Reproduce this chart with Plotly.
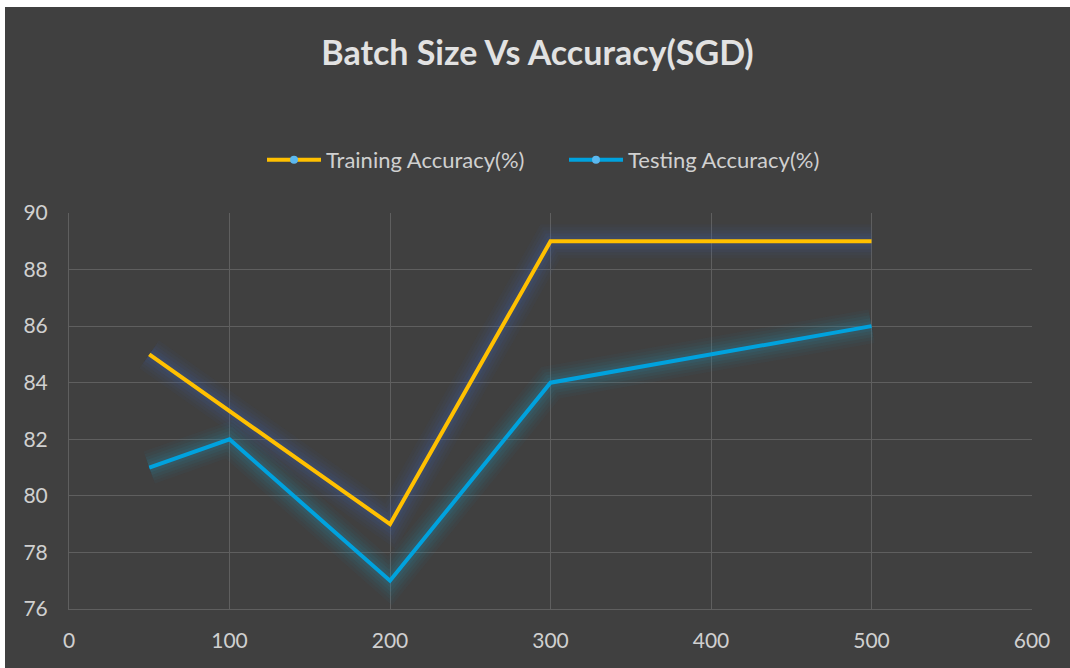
import plotly.graph_objects as go

batch_size = [50, 100, 200, 300, 500]
training_acc = [85, 83, 79, 89, 89]
testing_acc = [81, 82, 77, 84, 86]
series_names = ["Training Accuracy(%)", "Testing Accuracy(%)"]
x_ticks = [0, 100, 200, 300, 400, 500, 600]
y_ticks = [76, 78, 80, 82, 84, 86, 88, 90]

BG = "#404040"
GRID = "#5f5f5f"
TXT = "#d0d0d0"
FONT = "Lato"
colors = ["#FFC000", "#00A2DE"]
glow = ["60,95,170", "40,135,170"]

fig = go.Figure()

# glow layers
for ys, g in zip((training_acc, testing_acc), glow):
    for w, a in ((34, 0.05), (28, 0.06), (22, 0.08), (16, 0.10), (10, 0.13)):
        fig.add_trace(go.Scatter(x=batch_size, y=ys, mode="lines",
                                 line=dict(color=f"rgba({g},{a})", width=w),
                                 showlegend=False, hoverinfo="skip"))

for ys, c in zip((training_acc, testing_acc), colors):
    fig.add_trace(go.Scatter(x=batch_size, y=ys, mode="lines",
                             line=dict(color=c, width=4), showlegend=False))

for name, c in zip(series_names, colors):
    fig.add_trace(go.Scatter(x=[None], y=[None], mode="lines+markers", name=name,
                             line=dict(color=c, width=4),
                             marker=dict(color="#5BB8F0", size=8)))

W, H = 1065, 661
L, R, T, B = 64, 38, 206, 59
ph = H - T - B
pw = W - L - R

fig.update_layout(
    width=W, height=H,
    margin=dict(l=L, r=R, t=T, b=B),
    paper_bgcolor=BG, plot_bgcolor=BG,
    font=dict(family=FONT, color=TXT),
    title=dict(text="<b>Batch Size Vs Accuracy(SGD)</b>", x=0.5, xanchor="center",
               y=1 - 46 / H, yanchor="middle", yref="container",
               font=dict(size=34, color="#e2e2e2", family=FONT)),
    legend=dict(orientation="h", x=(262 - 5 - L) / pw, xanchor="left",
                y=(H - B - 153) / ph, yanchor="middle",
                font=dict(size=22, color=TXT), bgcolor="rgba(0,0,0,0)",
                itemwidth=54, entrywidth=233, entrywidthmode="pixels"),
    xaxis=dict(range=[0, 600], tickvals=x_ticks, showgrid=True, gridcolor=GRID,
               gridwidth=1, zeroline=False, showline=True, linecolor=GRID,
               mirror=False, ticks="", tickfont=dict(size=21, color=TXT), ticklabelstandoff=13),
    yaxis=dict(range=[76, 90], tickvals=y_ticks, showgrid=True, gridcolor=GRID,
               gridwidth=1, zeroline=False, showline=True, linecolor=GRID,
               ticks="", tickfont=dict(size=21, color=TXT), ticklabelstandoff=16),
)

fig.write_html("out.html", post_script=(
    "document.body.style.margin='0';"
    "document.body.style.padding='7px 0 0 5px';"
    "document.body.style.overflow='hidden';"
    "document.body.style.background='#ffffff';"))
